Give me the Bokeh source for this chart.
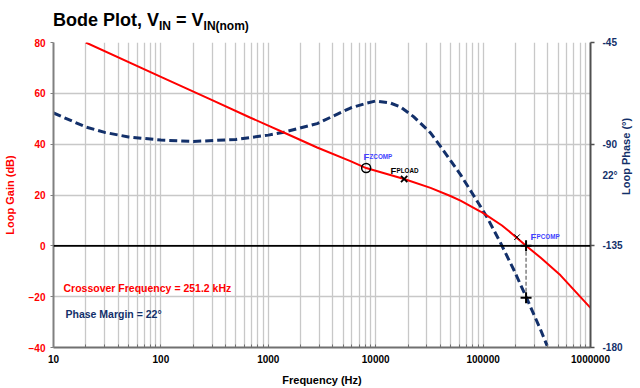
import math
from bokeh.plotting import figure
from bokeh.layouts import column
from bokeh.models import Range1d, LinearAxis, FixedTicker, Span, Label, Div
from bokeh.embed import file_html
from bokeh.resources import INLINE

# ---------------- data ----------------
freq_gain = [20, 100, 300, 683, 1000, 1394, 2850, 5820, 8150, 18400, 32400,
             49600, 61600, 94600, 109000, 150000, 193000, 251200, 342000,
             526000, 1000000]
gain_db = [80.0, 66.5, 57.3, 50.4, 47.3, 44.6, 38.7, 33.3, 30.6, 26.3, 22.8,
           19.6, 17.8, 13.5, 11.9, 8.0, 4.2, 0.0, -4.6, -11.6, -24.4]

freq_phase = [10, 20, 30, 50, 100, 200, 500, 1000, 1394, 2850, 5820, 8150,
              10000, 13700, 17000, 22500, 32400, 40100, 61600, 81900, 109000,
              145000, 193000, 257000, 342000, 395000]
phase_deg = [-76.2, -82.4, -84.8, -86.8, -88.2, -88.8, -87.9, -86.0, -84.7,
             -80.9, -74.0, -71.9, -70.9, -71.8, -73.5, -77.8, -85.0, -91.0,
             -103.5, -112.8, -122.4, -133.6, -145.6, -158.6, -172.0, -179.3]

x_ticks = [10, 100, 1000, 10000, 100000, 1000000]
x_tick_labels = ["10", "100", "1000", "10000", "100000", "1000000"]
x_minor = [m * d for d in [10, 100, 1000, 10000, 100000] for m in range(2, 10)]
gain_ticks = [-40, -20, 0, 20, 40, 60, 80]
phase_ticks = [-180, -135, -90, -45]
phase_tick_labels = ["-180", "-135", "-90", "-45"]

f_zcomp, g_zcomp = 8150, 30.6
f_pload, g_pload = 18400, 26.3
f_pcomp, g_pcomp = 207000, 3.4
f_cross = 251200
phase_at_0db = -135
phase_margin = 22
phase_cross = -180 + phase_margin
pm_note_phase = -103.7   # where the "22°" note sits beside the phase axis

RED = "#FF0000"
NAVY = "#13306A"
BLUE = "#3F3FFF"
FONT = "Liberation Sans"

# helpers: reference-pixel position -> data coordinates (for text placement)
def fx(px):
    return 10 ** (1 + (px - 53) / 107.4)

def gy(py):
    return 80 - (py - 42) / 2.55

sub = 'style="font-size:12px;vertical-align:-4px"'
title = Div(
    text=('<div style="padding:10px 0 0 53px;white-space:nowrap">'
          'Bode Plot, V<sub %s>IN</sub> = V<sub %s>IN(nom)</sub></div>'
          % (sub, sub)),
    width=640, height=34, margin=(0, 0, 0, 0),
    styles={"font-family": FONT, "font-size": "18px", "font-weight": "bold",
            "color": "black", "line-height": "20px"})

p = figure(width=640, height=354, x_axis_type="log",
           x_range=Range1d(10, 1000000), y_range=Range1d(-40, 80),
           output_backend="svg", toolbar_location=None,
           min_border_left=53, min_border_right=50,
           min_border_top=8, min_border_bottom=40, margin=(0, 0, 0, 0))
p.outline_line_color = None
p.background_fill_color = "white"
p.border_fill_color = "white"
p.extra_y_ranges = {"phase": Range1d(-180, -45)}

# grids
for g in (p.xgrid, p.ygrid):
    g.grid_line_color = "#C8C8C8"
    g.grid_line_width = 1.3
p.xgrid.minor_grid_line_color = "#C8C8C8"
p.xgrid.minor_grid_line_width = 1.3

# x axis
xa = p.xaxis[0]
xa.ticker = FixedTicker(ticks=x_ticks, minor_ticks=x_minor)
xa.major_label_overrides = {t: l for t, l in zip(x_ticks, x_tick_labels)}
xa.axis_label = "Frequency (Hz)"
xa.axis_label_text_font = FONT
xa.axis_label_text_font_style = "bold"
xa.axis_label_text_font_size = "11px"
xa.axis_label_text_color = "black"
xa.axis_label_standoff = 8
xa.major_label_text_font = FONT
xa.major_label_text_font_style = "bold"
xa.major_label_text_font_size = "10px"
xa.major_label_text_color = "black"
xa.major_label_standoff = 7
xa.major_tick_in = 3
xa.major_tick_out = 0
xa.minor_tick_in = 3
xa.minor_tick_out = 0
xa.axis_line_color = "#707070"
xa.axis_line_width = 2
xa.major_tick_line_color = "#707070"
xa.minor_tick_line_color = "#707070"

# left axis
ya = p.yaxis[0]
ya.ticker = FixedTicker(ticks=gain_ticks)
ya.axis_label = "Loop Gain (dB)"
ya.axis_label_text_font = FONT
ya.axis_label_text_font_style = "bold"
ya.axis_label_text_font_size = "11px"
ya.axis_label_text_color = RED
ya.axis_label_standoff = 10
ya.major_label_text_font = FONT
ya.major_label_text_font_style = "bold"
ya.major_label_text_font_size = "10px"
ya.major_label_text_color = RED
ya.major_label_standoff = 5
ya.major_tick_in = 0
ya.major_tick_out = 3
ya.minor_tick_line_color = None
ya.axis_line_color = "#808080"
ya.axis_line_width = 2
ya.major_tick_line_color = "#808080"

# right axis: tick marks drawn as minor ticks, labels from major ticks so the
# "22°" note can sit in the label column without a tick mark of its own
ra = LinearAxis(y_range_name="phase",
                ticker=FixedTicker(ticks=phase_ticks + [pm_note_phase],
                                   minor_ticks=phase_ticks))
overrides = {t: l for t, l in zip(phase_ticks, phase_tick_labels)}
overrides[pm_note_phase] = "%d°" % phase_margin
ra.major_label_overrides = overrides
ra.axis_label = "Loop Phase (°)"
ra.axis_label_text_font = FONT
ra.axis_label_text_font_style = "bold"
ra.axis_label_text_font_size = "11px"
ra.axis_label_text_color = NAVY
ra.axis_label_standoff = 0
ra.major_label_text_font = FONT
ra.major_label_text_font_style = "bold"
ra.major_label_text_font_size = "10px"
ra.major_label_text_color = NAVY
ra.major_label_standoff = 8
ra.major_tick_in = 0
ra.major_tick_out = 0
ra.major_tick_line_color = None
ra.minor_tick_in = 0
ra.minor_tick_out = 4
ra.minor_tick_line_color = "#505050"
ra.minor_tick_line_width = 1.3
ra.axis_line_color = "#505050"
ra.axis_line_width = 2
if "axis_label_orientation" in ra.properties():
    ra.axis_label_orientation = math.pi / 2
p.add_layout(ra, "right")

# zero dB line
p.add_layout(Span(location=0, dimension="width", line_color="black",
                  line_width=1.6))

# curves
p.line(freq_phase, phase_deg, y_range_name="phase", line_color=NAVY,
       line_width=3, line_dash="8 4")
p.line(freq_gain, gain_db, line_color=RED, line_width=2)

# markers
p.segment(x0=[f_cross], y0=[phase_at_0db], x1=[f_cross], y1=[phase_cross],
          y_range_name="phase", line_color="#808080", line_width=1.5,
          line_dash="4 2")
p.scatter([f_zcomp], [g_zcomp], marker="circle", size=9, fill_color=None,
          line_color="black", line_width=1.5)
p.scatter([f_pload], [g_pload], marker="x", size=9, line_color="black",
          line_width=1.8)
p.scatter([f_pcomp], [g_pcomp], marker="x", size=8, line_color="black",
          line_width=1)
p.scatter([f_cross], [0], marker="cross", size=11, line_color="black",
          line_width=2)
p.scatter([f_cross], [phase_cross], marker="cross", size=11,
          line_color="black", line_width=2, y_range_name="phase")

def lab(text, xpx, ypx, size, color, style="bold"):
    p.add_layout(Label(x=fx(xpx), y=gy(ypx), text=text, text_font=FONT,
                       text_font_size=size, text_font_style=style,
                       text_color=color, text_align="left",
                       text_baseline="alphabetic"))

lab("Crossover Frequency = %.1f kHz" % (f_cross / 1000), 63, 288, "10.5px", RED)
lab("Phase Margin = %d°" % phase_margin, 65, 314, "10.5px", NAVY)
lab("F", 363, 156.7, "9.5px", BLUE)
lab("ZCOMP", 369, 156.7, "6.3px", BLUE)
lab("F", 390, 170, "9.5px", "black")
lab("PLOAD", 396, 170, "6.3px", "black")
lab("F", 530, 236.7, "9.5px", BLUE)
lab("PCOMP", 536, 236.7, "6.3px", BLUE)

layout = column(title, p, margin=(0, 0, 0, 0))
open("out.html", "w").write(file_html(layout, INLINE))
